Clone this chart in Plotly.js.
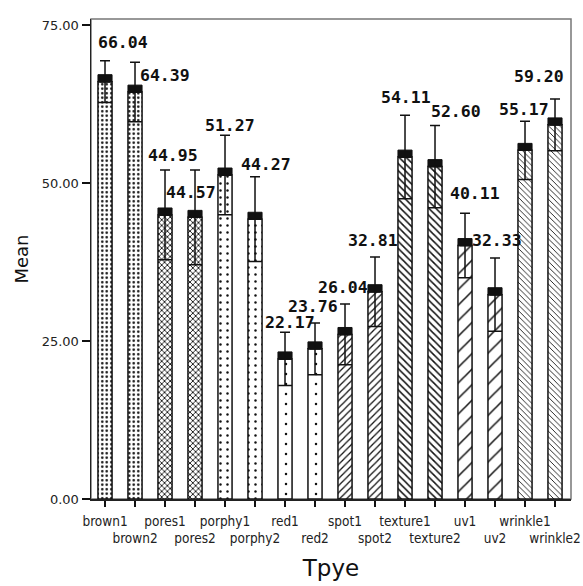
<!DOCTYPE html>
<html>
<head>
<meta charset="utf-8">
<script src="https://cdn.plot.ly/plotly-3.0.1.min.js"></script>
<style>
  html, body { margin: 0; padding: 0; background: #fff; }
  #chart { width: 583px; height: 586px; }
</style>
</head>
<body>
<div id="chart"></div>
<script>
// Mean score per type, with error bar half-widths
const categories = ['brown1', 'brown2', 'pores1', 'pores2', 'porphy1', 'porphy2', 'red1', 'red2',
                    'spot1', 'spot2', 'texture1', 'texture2', 'uv1', 'uv2', 'wrinkle1', 'wrinkle2'];
const means = [66.04, 64.39, 44.95, 44.57, 51.27, 44.27, 22.17, 23.76,
               26.04, 32.81, 54.11, 52.60, 40.11, 32.33, 55.17, 59.20];
const errors = [3.3, 4.7, 7.1, 7.5, 6.3, 6.7, 4.2, 4.1,
                4.8, 5.5, 6.6, 6.5, 5.1, 5.8, 4.6, 4.1];
const yTicks = [0, 25, 50, 75];

// Fill style per bar (pairs share a hatch)
const patternShape = ['.', '.', 'x', 'x', '.', '.', '.', '.', '/', '/', '\\', '\\', '/', '/', '\\', '\\'];
const patternSize = [4.5, 4.5, 4, 4, 7, 7, 10, 10, 5, 5, 5, 5, 11, 11, 4, 4];
const patternSolidity = [0.25, 0.25, 0.4, 0.4, 0.1, 0.1, 0.05, 0.05, 0.25, 0.25, 0.3, 0.3, 0.14, 0.14, 0.22, 0.22];

// Pixel offsets of each value label from the top of its error bar
const labelOffsets = [[18, -18], [30, 13], [8, -15], [-4, 23], [5, -10], [11, -12], [5, -10], [-2, -16],
                      [-2, -17], [-2, -16], [1, -18], [21, -14], [10, -20], [2, -18], [-1, -12], [-16, -22]];

const idx = categories.map((_, i) => i);
const barWidth = 0.47;
const capHeight = 1.1;

const bars = {
  type: 'bar',
  x: idx,
  y: means,
  width: barWidth,
  marker: {
    color: 'white',
    line: { color: '#111', width: 1.5 },
    pattern: {
      shape: patternShape,
      size: patternSize,
      solidity: patternSolidity,
      fgcolor: '#111',
      bgcolor: 'white',
      fillmode: 'replace'
    }
  },
  hoverinfo: 'skip',
  showlegend: false
};

// Solid mean marker sitting on top of each bar
const caps = {
  type: 'bar',
  x: idx,
  y: means.map(() => capHeight),
  base: means,
  width: barWidth,
  marker: { color: '#111', line: { color: '#111', width: 1 } },
  hoverinfo: 'skip',
  showlegend: false
};

const upperWhisker = {
  type: 'scatter',
  mode: 'markers',
  x: idx,
  y: means,
  marker: { size: 1, color: 'rgba(0,0,0,0)' },
  error_y: { type: 'data', symmetric: false, array: errors, arrayminus: means.map(() => 0),
             color: '#111', thickness: 1.5, width: 5 },
  hoverinfo: 'skip',
  showlegend: false
};

const lowerWhisker = {
  type: 'scatter',
  mode: 'markers',
  x: idx,
  y: means,
  marker: { size: 1, color: 'rgba(0,0,0,0)' },
  error_y: { type: 'data', symmetric: false, array: means.map(() => 0), arrayminus: errors,
             color: '#111', thickness: 1.5, width: 7 },
  hoverinfo: 'skip',
  showlegend: false
};

const valueLabels = means.map((m, i) => ({
  x: i,
  y: m + errors[i],
  xref: 'x',
  yref: 'y',
  text: m.toFixed(2),
  showarrow: false,
  xanchor: 'center',
  yanchor: 'middle',
  xshift: labelOffsets[i][0],
  yshift: -labelOffsets[i][1],
  font: { family: 'DejaVu Sans Mono', size: 16.5, color: '#111', weight: 'bold' }
}));

// Two-row staggered category labels
const tickText = categories.map((c, i) => (i % 2 === 0 ? c : '\u00a0<br>' + c));

const layout = {
  width: 583,
  height: 586,
  margin: { l: 91, r: 12, t: 19, b: 87 },
  paper_bgcolor: 'white',
  plot_bgcolor: 'white',
  barmode: 'overlay',
  font: { family: 'DejaVu Sans', color: '#222' },
  xaxis: {
    range: [-0.467, 15.533],
    tickmode: 'array',
    tickvals: idx,
    ticktext: tickText,
    ticks: 'outside',
    ticklen: 6,
    tickwidth: 2.5,
    tickcolor: '#111',
    tickangle: 0,
    ticklabeloverflow: 'allow',
    ticklabelstandoff: 3,
    showgrid: false,
    zeroline: false,
    showline: true,
    linecolor: '#222',
    linewidth: 1.5,
    tickfont: { family: 'DejaVu Sans Condensed, DejaVu Sans', size: 13.5, color: '#222' },
    title: { text: 'Tpye', font: { family: 'DejaVu Sans', size: 23, color: '#111' }, standoff: 14 }
  },
  yaxis: {
    range: [0, 75.95],
    tickmode: 'array',
    tickvals: yTicks,
    tickformat: '.2f',
    ticks: 'outside',
    ticklen: 8,
    tickwidth: 2,
    tickcolor: '#111',
    showgrid: false,
    zeroline: false,
    showline: true,
    linecolor: '#222',
    linewidth: 1.5,
    tickfont: { family: 'DejaVu Sans', size: 13, color: '#222' },
    title: { text: 'Mean', font: { family: 'DejaVu Sans', size: 18, color: '#111' }, standoff: 8 }
  },
  shapes: [{
    type: 'rect', xref: 'paper', yref: 'paper', x0: 0, x1: 1, y0: 0, y1: 1,
    line: { color: '#777', width: 1.5 }, layer: 'below'
  }],
  annotations: valueLabels
};

Plotly.newPlot('chart', [bars, caps, lowerWhisker, upperWhisker], layout, { displayModeBar: false, staticPlot: true });
</script>
</body>
</html>
